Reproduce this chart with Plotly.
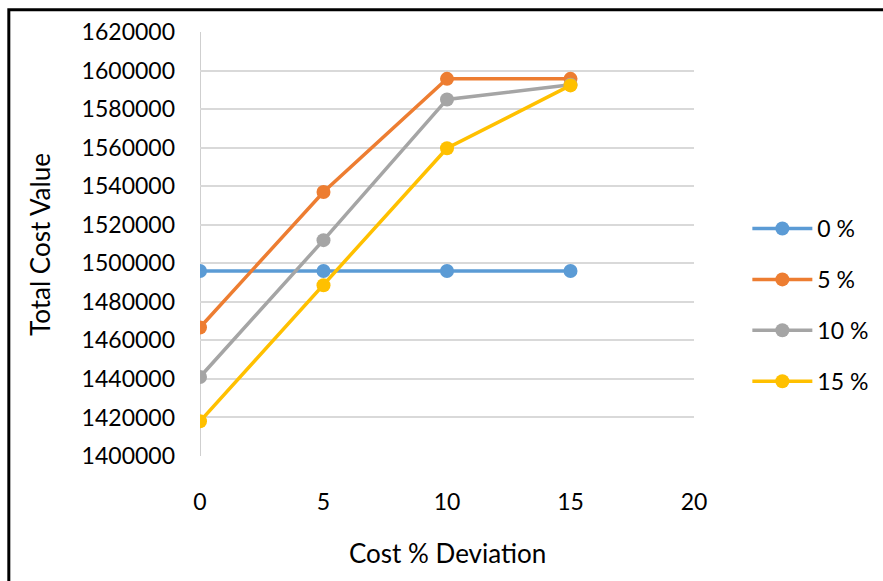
import plotly.graph_objects as go

# Cost deviation steps (x axis) and total cost for each scenario
deviation = [0, 5, 10, 15]
series_names = ["0 %", "5 %", "10 %", "15 %"]
cost_0 = [1496000, 1496000, 1496000, 1496000]
cost_5 = [1466700, 1537000, 1595700, 1595700]
cost_10 = [1441000, 1512000, 1585000, 1592600]
cost_15 = [1418000, 1488600, 1559700, 1592300]
colors = ["#5B9BD5", "#ED7D31", "#A5A5A5", "#FFC000"]

y_ticks = list(range(1400000, 1620001, 20000))
x_ticks = [0, 5, 10, 15, 20]

FONT = "Lato, 'Open Sans', sans-serif"
TICK_SIZE = 23
TITLE_SIZE = 26

fig = go.Figure()
for i, (name, vals) in enumerate(zip(series_names, [cost_0, cost_5, cost_10, cost_15])):
    fig.add_trace(go.Scatter(
        x=deviation, y=vals, name=name, mode="lines+markers",
        line=dict(color=colors[i], width=3.5),
        marker=dict(color=colors[i], size=14),
        legendgroup=f"g{i}",
    ))

fig.update_layout(
    width=883, height=581,
    margin=dict(l=200, r=189, t=32, b=125, autoexpand=False),
    paper_bgcolor="white", plot_bgcolor="white",
    font=dict(family=FONT, size=TICK_SIZE, color="#000000"),
    showlegend=True,
    legend=dict(
        x=1.108, y=0.356, xanchor="left", yanchor="middle",
        font=dict(family=FONT, size=TICK_SIZE, color="#000000"),
        itemwidth=60, tracegroupgap=18, bgcolor="rgba(0,0,0,0)",
    ),
    xaxis=dict(
        range=[0, 20], tickvals=x_ticks, showgrid=False, zeroline=False,
        showline=False, ticks="", ticklabelstandoff=30,
        tickfont=dict(family=FONT, size=TICK_SIZE),
    ),
    yaxis=dict(
        range=[1400000, 1620000], tickvals=y_ticks, tickformat="d",
        showgrid=True, gridcolor="#D9D9D9", gridwidth=1.5,
        zeroline=False, showline=False, ticks="", ticklabelstandoff=24,
        tickfont=dict(family=FONT, size=TICK_SIZE),
    ),
    annotations=[
        dict(text="Cost % Deviation", xref="paper", yref="paper",
             x=0.5, y=-0.228, xanchor="center", yanchor="middle",
             showarrow=False, font=dict(family=FONT, size=TITLE_SIZE)),
        dict(text="Total Cost Value", xref="paper", yref="paper",
             x=-0.324, y=0.5, xanchor="center", yanchor="middle",
             textangle=-90, showarrow=False, font=dict(family=FONT, size=TITLE_SIZE)),
    ],
    shapes=[
        # vertical axis line at x = 0
        dict(type="line", xref="x", yref="paper", x0=0, x1=0, y0=0, y1=1,
             line=dict(color="#BFBFBF", width=1.5), layer="below"),
        # outer frame
        dict(type="rect", xref="paper", yref="paper",
             x0=-0.387, x1=1.42, y0=-0.33, y1=1.0525,
             line=dict(color="#000000", width=3)),
    ],
)

fig.write_html("out.html")
